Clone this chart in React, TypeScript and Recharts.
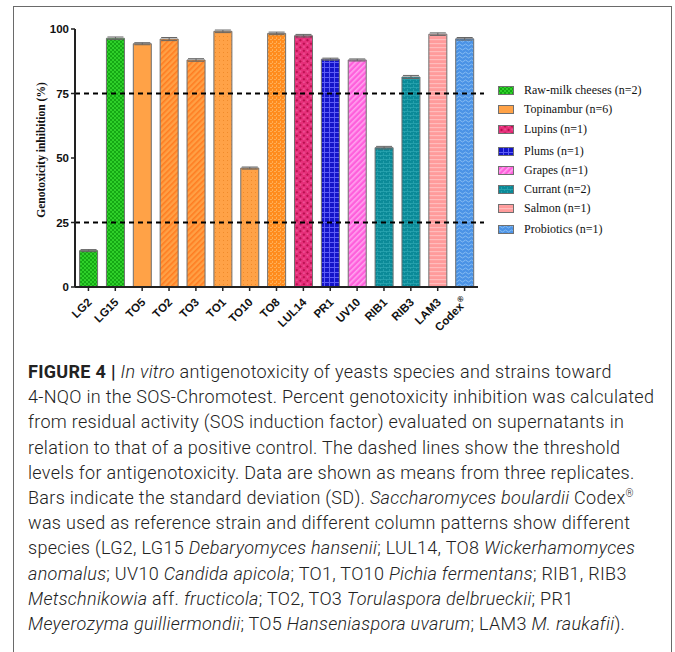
import React from 'react';
import { BarChart, Bar, Cell, XAxis, YAxis, ReferenceLine, ErrorBar } from 'recharts';

// strains in plotted order
const strains = ['LG2', 'LG15', 'TO5', 'TO2', 'TO3', 'TO1', 'TO10', 'TO8', 'LUL14', 'PR1', 'UV10', 'RIB1', 'RIB3', 'LAM3', 'Codex'];
// mean genotoxicity inhibition (%)
const inhibition = [14.1, 96.4, 94.3, 96.1, 88.0, 99.1, 46.1, 98.3, 97.4, 88.3, 88.0, 54.0, 81.4, 98.0, 96.2];
// standard deviation
const sd = [0.4, 0.5, 0.4, 0.6, 0.5, 0.5, 0.4, 0.5, 0.5, 0.4, 0.4, 0.5, 0.6, 0.5, 0.5];
// column pattern for each strain
const patternOf = ['green', 'green', 'orange', 'stripe', 'stripe', 'dots', 'dots', 'weave', 'lupin', 'plum', 'grape', 'currant', 'currant', 'salmon', 'probio'];

const legendNames = ['Raw-milk cheeses (n=2)', 'Topinambur (n=6)', 'Lupins (n=1)', 'Plums (n=1)', 'Grapes (n=1)', 'Currant (n=2)', 'Salmon (n=1)', 'Probiotics (n=1)'];
const legendPatterns = ['green', 'orange', 'lupin', 'plum', 'grape', 'currant', 'salmon', 'probio'];
const legendTops = [83, 102, 122, 144, 163, 182, 201, 222];

const yTicks = [0, 25, 50, 75, 100];
const thresholds = [25, 75];

const data = strains.map((name, i) => ({ name, value: inhibition[i], sd: sd[i], pat: patternOf[i] }));

const Patterns = () => (
  <defs>
    <pattern id="pat-green" width="4" height="4" patternUnits="userSpaceOnUse">
      <rect width="4" height="4" fill="#2fd02a" />
      <rect width="2" height="2" fill="#14a814" />
      <rect x="2" y="2" width="2" height="2" fill="#14a814" />
    </pattern>
    <pattern id="pat-orange" width="4" height="4" patternUnits="userSpaceOnUse">
      <rect width="4" height="4" fill="#ffa247" />
    </pattern>
    <pattern id="pat-stripe" width="4" height="4" patternUnits="userSpaceOnUse" patternTransform="rotate(45)">
      <rect width="4" height="4" fill="#ffa045" />
      <rect width="1.6" height="4" fill="#ff7d22" />
    </pattern>
    <pattern id="pat-dots" width="4" height="4" patternUnits="userSpaceOnUse">
      <rect width="4" height="4" fill="#ffa247" />
      <rect x="1" y="1" width="1" height="1" fill="#f08a2a" />
    </pattern>
    <pattern id="pat-weave" width="4" height="4" patternUnits="userSpaceOnUse">
      <rect width="4" height="4" fill="#ff8c1e" />
      <rect width="2" height="1" fill="#ffae55" />
      <rect x="2" y="2" width="1" height="2" fill="#ffae55" />
    </pattern>
    <pattern id="pat-lupin" width="5" height="5" patternUnits="userSpaceOnUse" patternTransform="rotate(45)">
      <rect width="5" height="5" fill="#e62f7a" />
      <rect width="2" height="2" fill="#b8104e" />
      <rect x="2.5" y="2.5" width="1.5" height="1.5" fill="#f060a0" />
    </pattern>
    <pattern id="pat-plum" width="5" height="5" patternUnits="userSpaceOnUse">
      <rect width="5" height="5" fill="#1313c9" />
      <rect width="5" height="1" fill="#5c5cf5" />
      <rect width="1" height="5" fill="#5c5cf5" />
    </pattern>
    <pattern id="pat-grape" width="4" height="4" patternUnits="userSpaceOnUse" patternTransform="rotate(45)">
      <rect width="4" height="4" fill="#ff5fdc" />
      <rect width="1.6" height="4" fill="#ffa3ef" />
    </pattern>
    <pattern id="pat-currant" width="6" height="4" patternUnits="userSpaceOnUse">
      <rect width="6" height="4" fill="#0b8a98" />
      <rect width="6" height="0.8" fill="#2aa4b0" />
      <rect x="0" width="0.8" height="2" fill="#2aa4b0" />
      <rect x="3" y="2" width="0.8" height="2" fill="#2aa4b0" />
    </pattern>
    <pattern id="pat-salmon" width="4" height="4" patternUnits="userSpaceOnUse">
      <rect width="4" height="4" fill="#ff9b9b" />
      <rect width="4" height="1.2" fill="#ffbcbc" />
    </pattern>
    <pattern id="pat-probio" width="6" height="4" patternUnits="userSpaceOnUse">
      <rect width="6" height="4" fill="#4b93e6" />
      <path d="M0 2 Q1.5 0 3 2 Q4.5 4 6 2" stroke="#8cc0f2" strokeWidth="0.9" fill="none" />
    </pattern>
  </defs>
);

const XTick = ({ x, y, payload }: any) => (
  <g transform={`translate(${x},${y})`}>
    <text x={4} y={10} textAnchor="end" transform="rotate(-45 4 10)" fontFamily="Liberation Sans, Arial" fontWeight="bold" fontSize={11.5} fill="#111">
      {payload.value}
      {payload.value === 'Codex' && <tspan fontSize={8} dy={-6}>®</tspan>}
    </text>
  </g>
);

const YTitle = ({ viewBox }: any) => {
  const cx = viewBox.x + 27;
  const cy = viewBox.y + viewBox.height / 2 - 8;
  return (
    <text x={cx} y={cy} transform={`rotate(-90 ${cx} ${cy})`} textAnchor="middle" dominantBaseline="central" fontFamily="Liberation Serif, Times New Roman" fontWeight="bold" fontSize={11.5} fill="#111">
      Genotoxicity inhibition (%)
    </text>
  );
};

const DashShape = ({ x1, y1, x2, y2 }: any) => (
  <line x1={x1} y1={y1} x2={x2 + 10} y2={y2} stroke="#000" strokeWidth={2} strokeDasharray="5 4" />
);

const capLine: React.CSSProperties = { whiteSpace: 'nowrap', height: 25.2, lineHeight: '25.2px' };
const sup: React.CSSProperties = { fontSize: 10, position: 'relative', top: -7, lineHeight: 0 };

export default function App() {
  return (
    <div style={{ position: 'absolute', left: 13, top: 6, width: 657, height: 700, border: '1px solid #6a6a6a', borderBottom: 'none', background: '#fff' }}>
      <div style={{ position: 'absolute', left: 0, top: 0 }}>
        <BarChart width={470} height={340} data={data} margin={{ top: 22, right: 6, left: 0, bottom: 5 }} barCategoryGap="17%">
          <Patterns />
          <XAxis dataKey="name" interval={0} height={55} tick={<XTick />} tickLine={{ stroke: '#222', strokeWidth: 1.5 }} tickSize={4} axisLine={{ stroke: '#222', strokeWidth: 2 }} />
          <YAxis width={61} domain={[0, 100]} ticks={yTicks} tickSize={4} tickLine={{ stroke: '#222', strokeWidth: 1.5 }} axisLine={{ stroke: '#222', strokeWidth: 2 }}
            tick={{ fill: '#111', fontFamily: 'Liberation Sans, Arial', fontWeight: 'bold', fontSize: 11.5 }} label={<YTitle />} />
          {thresholds.map((t) => (
            <ReferenceLine key={t} y={t} shape={<DashShape />} ifOverflow="visible" />
          ))}
          <Bar dataKey="value" stroke="#707070" strokeWidth={1} isAnimationActive={false}>
            {data.map((d, i) => (
              <Cell key={`c-${i}`} fill={`url(#pat-${d.pat})`} />
            ))}
            <ErrorBar dataKey="sd" width={8} stroke="#666" strokeWidth={1} direction="y" />
          </Bar>
        </BarChart>
      </div>
      <div style={{ position: 'absolute', left: 484, top: 0, fontFamily: 'Liberation Serif, Times New Roman', fontSize: 12, color: '#111' }}>
        {legendNames.map((n, i) => (
          <div key={n} style={{ position: 'absolute', top: legendTops[i] - 8, left: 0, whiteSpace: 'nowrap', height: 16, display: 'flex', alignItems: 'center' }}>
            <svg width={16} height={9} style={{ marginRight: 10 }}>
              <rect x={0.5} y={0.5} width={15} height={8} fill={`url(#pat-${legendPatterns[i]})`} stroke="#707070" />
            </svg>
            <span>{n}</span>
          </div>
        ))}
      </div>
      <div style={{ position: 'absolute', left: 14, top: 352, fontFamily: 'Roboto, Liberation Sans, sans-serif', fontWeight: 300, fontSize: 18, letterSpacing: 0.3, color: '#222' }}>
        <div style={capLine}><b style={{ fontWeight: 700 }}>FIGURE 4 |</b> <i>In vitro</i> antigenotoxicity of yeasts species and strains toward</div>
        <div style={capLine}>4-NQO in the SOS-Chromotest. Percent genotoxicity inhibition was calculated</div>
        <div style={capLine}>from residual activity (SOS induction factor) evaluated on supernatants in</div>
        <div style={capLine}>relation to that of a positive control. The dashed lines show the threshold</div>
        <div style={capLine}>levels for antigenotoxicity. Data are shown as means from three replicates.</div>
        <div style={capLine}>Bars indicate the standard deviation (SD). <i>Saccharomyces boulardii</i> Codex<span style={sup}>®</span></div>
        <div style={capLine}>was used as reference strain and different column patterns show different</div>
        <div style={capLine}>species (LG2, LG15 <i>Debaryomyces hansenii</i>; LUL14, TO8 <i>Wickerhamomyces</i></div>
        <div style={capLine}><i>anomalus</i>; UV10 <i>Candida apicola</i>; TO1, TO10 <i>Pichia fermentans</i>; RIB1, RIB3</div>
        <div style={capLine}><i>Metschnikowia</i> aff. <i>fructicola</i>; TO2, TO3 <i>Torulaspora delbrueckii</i>; PR1</div>
        <div style={capLine}><i>Meyerozyma guilliermondii</i>; TO5 <i>Hanseniaspora uvarum</i>; LAM3 <i>M. raukafii</i>).</div>
      </div>
    </div>
  );
}
